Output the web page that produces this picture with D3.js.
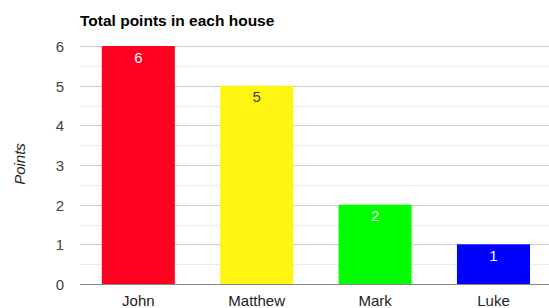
<!DOCTYPE html>
<html><head><meta charset="utf-8">
<script src="https://cdn.jsdelivr.net/npm/d3@7"></script>
<style>body{margin:0;background:#fff}svg{display:block;font-family:Arial,"Liberation Sans",sans-serif}</style>
</head><body><svg id="c" width="549" height="308"></svg>
<script>
const categories = ["John","Matthew","Mark","Luke"];
const values = [6,5,2,1];
const barColors = ["#ff0020","#fff510","#00ff00","#0000ff"];
const labelColors = ["#ffffff","#404040","#ffffff","#ffffff"];
const yTicks = [0,1,2,3,4,5,6];
const minorTicks = [0.5,1.5,2.5,3.5,4.5,5.5];

(function(){
const svg = d3.select("#c");
const plotLeft = 80, plotTop = 46, plotBottom = 284;
const x = d3.scaleBand().domain(categories).range([79.3, 552.5]).paddingInner(0.383).paddingOuter(0.19);
const y = d3.scaleLinear().domain([0,6]).range([plotBottom, plotTop]);

svg.append("g").selectAll("line").data(minorTicks).join("line")
  .attr("x1", plotLeft).attr("x2", 549).attr("y1", d=>Math.round(y(d))+0.5).attr("y2", d=>Math.round(y(d))+0.5)
  .attr("stroke", "#ebebeb");
svg.append("g").selectAll("line").data(yTicks.slice(1)).join("line")
  .attr("x1", plotLeft).attr("x2", 549).attr("y1", d=>Math.round(y(d))+0.5).attr("y2", d=>Math.round(y(d))+0.5)
  .attr("stroke", "#cccccc");

svg.append("g").selectAll("rect").data(values).join("rect")
  .attr("x", (d,i)=>x(categories[i])).attr("width", x.bandwidth())
  .attr("y", d=>y(d)).attr("height", d=>plotBottom - y(d))
  .attr("fill", (d,i)=>barColors[i]);

svg.append("line").attr("x1", plotLeft).attr("x2", 549).attr("y1", plotBottom+0.5).attr("y2", plotBottom+0.5).attr("stroke", "#888");

svg.append("g").selectAll("text").data(values).join("text")
  .attr("x", (d,i)=>x(categories[i]) + x.bandwidth()/2).attr("y", d=>y(d)+16.5)
  .attr("text-anchor","middle").attr("font-size",15).attr("fill",(d,i)=>labelColors[i])
  .text(d=>d);

svg.append("g").selectAll("text").data(yTicks).join("text")
  .attr("x", 64).attr("y", d=>y(d)+6).attr("text-anchor","end")
  .attr("font-size",15).attr("fill","#444").text(d=>d);

svg.append("g").selectAll("text").data(categories).join("text")
  .attr("x", d=>x(d)+x.bandwidth()/2).attr("y", 306).attr("text-anchor","middle")
  .attr("font-size",15).attr("fill","#222").text(d=>d);

svg.append("text").attr("x", 80).attr("y", 26).attr("font-size",15.5).attr("font-weight","bold")
  .attr("fill","#000").text("Total points in each house");

svg.append("text").attr("transform","translate(25,164) rotate(-90)").attr("text-anchor","middle")
  .attr("font-size",15).attr("font-style","italic").attr("fill","#222").text("Points");
})();
</script></body></html>
